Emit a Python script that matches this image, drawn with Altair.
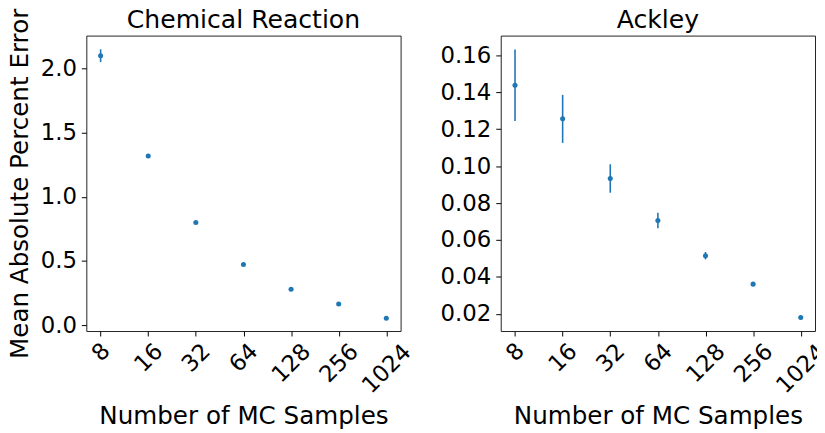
import altair as alt
import pandas as pd

samples = ["8", "16", "32", "64", "128", "256", "1024"]

chem_mean = [2.10, 1.319, 0.80, 0.473, 0.28, 0.164, 0.054]
chem_err = [0.05, 0.010, 0.008, 0.006, 0.005, 0.004, 0.003]

ack_mean = [0.1438, 0.1256, 0.0933, 0.0705, 0.0515, 0.0361, 0.0180]
ack_err = [0.0193, 0.0130, 0.0077, 0.0042, 0.0020, 0.0005, 0.0003]

BLUE = "#1f77b4"
FONT = "DejaVu Sans"
W, H = 317, 298


def make_df(mean, err):
    return pd.DataFrame({
        "n": samples,
        "mean": mean,
        "lo": [m - e for m, e in zip(mean, err)],
        "hi": [m + e for m, e in zip(mean, err)],
    })


def panel(df, title, ydomain, yticks, yfmt, ytitle):
    xenc = alt.X(
        "n:O", sort=samples,
        scale=alt.Scale(type="point", padding=0.3),
        axis=alt.Axis(
            title="Number of MC Samples",
            labelAngle=-45, labelAlign="center", labelBaseline="middle",
            labelPadding=alt.ExprRef("10.5 + 5.6*length(datum.label)"),
            titlePadding=6,
        ),
    )
    if ytitle:
        yaxis = alt.Axis(values=yticks, format=yfmt, labelPadding=5, titlePadding=8, title=ytitle)
    else:
        yaxis = alt.Axis(values=yticks, format=yfmt, labelPadding=5, title=None)
    yenc = alt.Y("lo:Q", scale=alt.Scale(domain=ydomain, nice=False, zero=False), axis=yaxis)
    base = alt.Chart(df)
    bars = base.mark_rule(color=BLUE, strokeWidth=1.6).encode(x=xenc, y=yenc, y2="hi:Q")
    pts = base.mark_circle(color=BLUE, size=26, opacity=1).encode(x=xenc, y=alt.Y("mean:Q"))
    ttl = alt.Chart(pd.DataFrame({"t": [title]})).mark_text(
        font=FONT, fontSize=25.3, color="black", align="center", baseline="alphabetic"
    ).encode(text="t:N", x=alt.value(W / 2), y=alt.value(-8))
    return alt.layer(bars, pts, ttl).properties(width=W, height=H)


left = panel(make_df(chem_mean, chem_err), "Chemical Reaction", [-0.046, 2.257],
             [0.0, 0.5, 1.0, 1.5, 2.0], ".1f", "Mean Absolute Percent Error")
right = panel(make_df(ack_mean, ack_err), "Ackley", [0.0107, 0.1707],
              [0.02, 0.04, 0.06, 0.08, 0.10, 0.12, 0.14, 0.16], ".2f", None)

chart = alt.hconcat(left, right, spacing=23).properties(
    padding={"left": -2, "top": -3, "right": -14, "bottom": 0}
).configure_view(
    stroke="#222", strokeWidth=1
).configure_axis(
    grid=False, domain=False,
    labelFont=FONT, labelFontSize=23, labelColor="black",
    titleFont=FONT, titleFontSize=24.8, titleFontWeight="normal", titleColor="black",
    tickColor="black", tickSize=5, tickWidth=1,
).configure_concat(spacing=23)

chart.save("out.html", embed_options={"renderer": "svg", "actions": False})
